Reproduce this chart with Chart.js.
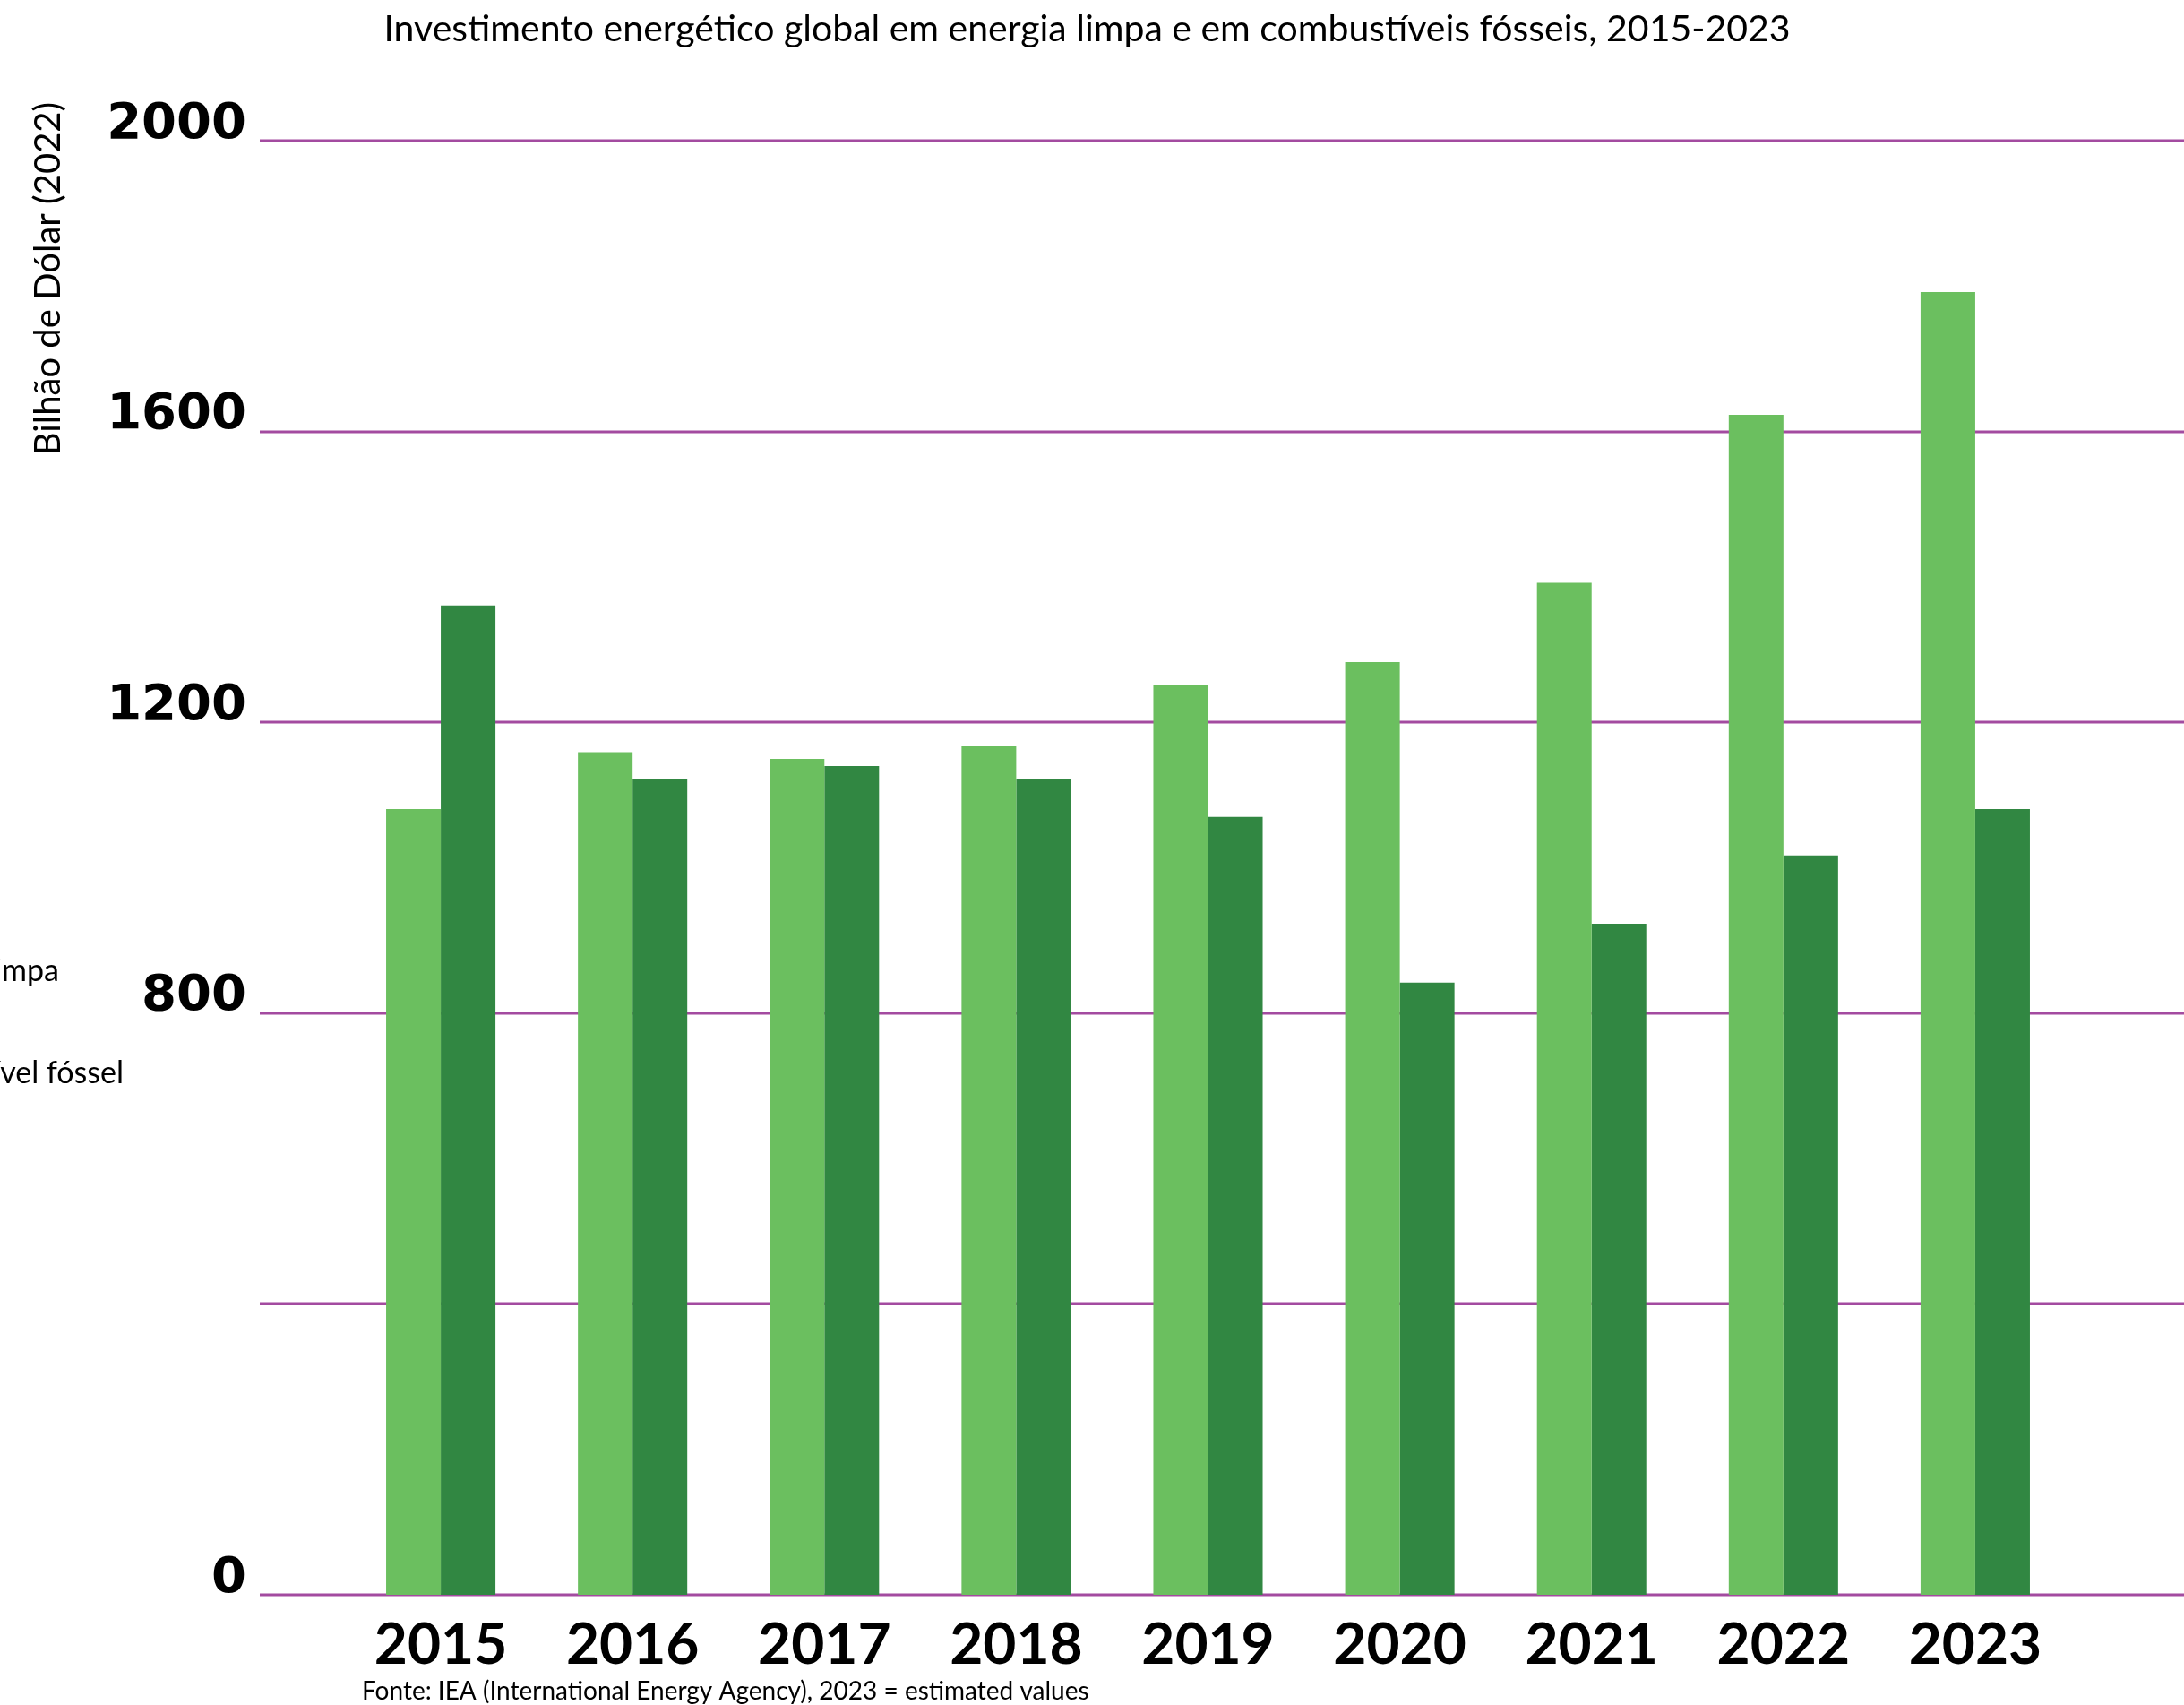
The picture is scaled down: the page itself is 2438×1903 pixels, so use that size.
<!DOCTYPE html>
<html lang="pt">
<head>
  <meta charset="UTF-8" />
  <title>Investimento energético global 2015-2023</title>
  <script src="https://cdn.jsdelivr.net/npm/chart.js"></script>
  <style>
    html, body { margin: 0; padding: 0; background: #fff; overflow: hidden; }
    .chart-box { position: relative; width: 2438px; height: 1903px; }
  </style>
</head>
<body>
  <div class="chart-box"><canvas id="investChart"></canvas></div>

  <script>
    // values (billion USD, 2022)
    const years = ['2015', '2016', '2017', '2018', '2019', '2020', '2021', '2022', '2023'];
    const cleanEnergy = [1081, 1159, 1150, 1167, 1251, 1283, 1392, 1623, 1792];
    const fossilFuels = [1361, 1122, 1140, 1122, 1070, 842, 923, 1017, 1081];
    const yTickLabels = ['0', '', '800', '1200', '1600', '2000'];
    const seriesNames = ['Energia limpa', 'Combustível fóssel'];

    const chartTitle = 'Investimento energético global em energia limpa e em combustíveis fósseis, 2015-2023';
    const yAxisTitle = 'Bilhão de Dólar (2022)';
    const sourceNote = 'Fonte: IEA (International Energy Agency), 2023 = estimated values';

    const lightGreen = '#6bbf5f';
    const darkGreen = '#318742';
    const gridColor = '#a34ba0';

    Chart.defaults.font.family = 'Lato';
    Chart.defaults.color = '#000';

    // horizontal lines run past the plot area, from the labels to the right edge
    const wideGrid = {
      id: 'wideGrid',
      beforeDatasetsDraw(chart) {
        const ctx = chart.ctx;
        const y = chart.scales.y;
        ctx.save();
        ctx.strokeStyle = gridColor;
        ctx.lineWidth = 3;
        y.ticks.forEach(t => {
          const py = Math.round(y.getPixelForValue(t.value));
          ctx.beginPath();
          ctx.moveTo(290, py);
          ctx.lineTo(chart.width, py);
          ctx.stroke();
        });
        ctx.restore();
      }
    };

    // axis title, clipped legend labels and source line
    const sideText = {
      id: 'sideText',
      afterDraw(chart) {
        const ctx = chart.ctx;
        ctx.save();
        ctx.fillStyle = '#000';

        ctx.save();
        ctx.font = '40px Lato';
        ctx.textAlign = 'center';
        ctx.textBaseline = 'middle';
        ctx.translate(54, 311);
        ctx.rotate(-Math.PI / 2);
        ctx.fillText(yAxisTitle, 0, 0);
        ctx.restore();

        ctx.font = '34px Lato';
        ctx.textAlign = 'right';
        ctx.textBaseline = 'alphabetic';
        ctx.fillText(seriesNames[0], 66, 1095);
        ctx.fillText(seriesNames[1], 138, 1209);

        ctx.font = '28px Lato';
        ctx.textAlign = 'left';
        ctx.fillText(sourceNote, 404, 1897);
        ctx.restore();
      }
    };

    new Chart(document.getElementById('investChart'), {
      type: 'bar',
      data: {
        labels: years,
        datasets: [
          {
            label: seriesNames[0],
            data: cleanEnergy,
            backgroundColor: lightGreen,
            categoryPercentage: 0.57,
            barPercentage: 1.0
          },
          {
            label: seriesNames[1],
            data: fossilFuels,
            backgroundColor: darkGreen,
            categoryPercentage: 0.57,
            barPercentage: 1.0
          }
        ]
      },
      options: {
        responsive: true,
        maintainAspectRatio: false,
        animation: false,
        layout: { padding: { left: 115, right: 126, top: 0, bottom: 0 } },
        plugins: {
          legend: { display: false },
          tooltip: { enabled: false },
          title: {
            display: true,
            text: chartTitle,
            color: '#000',
            font: { size: 41, weight: 'normal' },
            padding: { top: 8, bottom: 100 }
          }
        },
        scales: {
          x: {
            grid: { display: false, drawTicks: false },
            border: { display: false },
            afterFit(scale) { scale.height = 123; },
            ticks: {
              padding: 18,
              color: '#000',
              font: { size: 64, weight: 'bold' }
            }
          },
          y: {
            min: 0,
            max: 2000,
            grid: { display: false, drawTicks: false },
            border: { display: false },
            // the wide label gap should not also push the plot down
            afterFit(scale) {
              scale.width = 270;
              scale.paddingTop = 30;
              scale.paddingBottom = 30;
            },
            ticks: {
              stepSize: 400,
              padding: 110,
              labelOffset: -18,
              color: '#000',
              font: { family: 'DejaVu Sans', size: 56, weight: 'bold' },
              callback: (value, index) => yTickLabels[index]
            }
          }
        }
      },
      plugins: [wideGrid, sideText]
    });
  </script>
</body>
</html>
